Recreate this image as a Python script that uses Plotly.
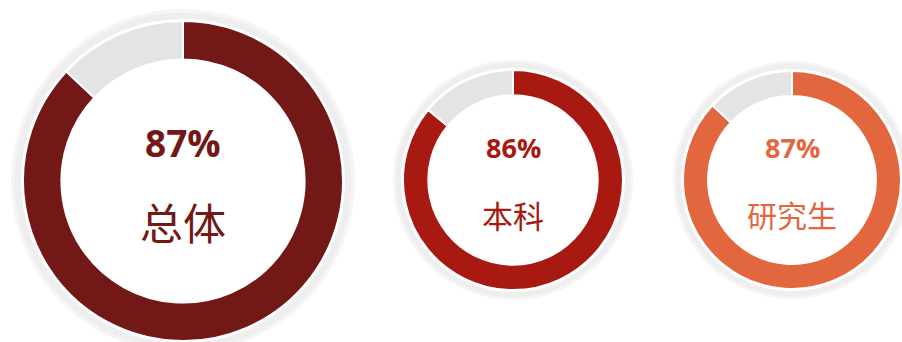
import plotly.graph_objects as go

# ---- data ----
groups = ["总体", "本科", "研究生"]
rates = [87, 86, 87]
remainders = [13, 14, 13]

# ---- styles / layout ----
W, H = 902, 342
ring_colors = ["#721816", "#A81912", "#E2673F"]
rest_color = "#E4E4E4"
centers = [(183, 181), (513, 180), (792, 180)]   # pixel centres (x, y from top)
radii = [160, 110, 109]
holes = [0.76, 0.77, 0.77]
pct_sizes = [37, 27, 27]
label_sizes = [43, 31, 30]
pct_dy = [-39, -33, -33]
label_dy = [40, 34, 34]

fig = go.Figure()
shapes = []
annotations = []
for i, g in enumerate(groups):
    cx, cy = centers[i]
    r = radii[i]
    fig.add_trace(go.Pie(
        values=[rates[i], remainders[i]],
        labels=["达成", "未达成"],
        hole=holes[i],
        sort=False,
        direction="clockwise",
        rotation=0,
        textinfo="none",
        hoverinfo="label+percent",
        marker=dict(colors=[ring_colors[i], rest_color],
                    line=dict(color="white", width=2)),
        domain=dict(x=[(cx - r) / W, (cx + r) / W],
                    y=[(H - cy - r) / H, (H - cy + r) / H]),
        showlegend=False,
    ))
    # halo rings
    gap = 2
    thick = 10 if i == 0 else 8
    for k, (col, w0, w1) in enumerate([("#F5F5F5", thick * 0.6, thick), ("#EEEEEE", 0, thick * 0.65)]):
        rm = r + gap + (w0 + w1) / 2
        shapes.append(dict(
            type="circle", layer="below",
            xref="paper", yref="paper",
            xsizemode="pixel", ysizemode="pixel",
            xanchor=cx / W, yanchor=1 - cy / H,
            x0=-rm, x1=rm, y0=-rm, y1=rm,
            line=dict(color=col, width=w1 - w0),
            fillcolor="rgba(0,0,0,0)",
        ))
    annotations.append(dict(
        x=cx / W, y=1 - (cy + pct_dy[i]) / H, xref="paper", yref="paper",
        text=f"<b>{rates[i]}%</b>", showarrow=False,
        xanchor="center", yanchor="middle",
        font=dict(family="Open Sans, Lato, sans-serif", size=pct_sizes[i],
                  color=ring_colors[i], weight=800),
    ))
    annotations.append(dict(
        x=cx / W, y=1 - (cy + label_dy[i]) / H, xref="paper", yref="paper",
        text=g, showarrow=False,
        xanchor="center", yanchor="middle",
        font=dict(family="Noto Sans CJK SC", size=label_sizes[i], color=ring_colors[i]),
    ))

fig.update_layout(
    width=W, height=H,
    margin=dict(l=0, r=0, t=0, b=0),
    paper_bgcolor="white", plot_bgcolor="white",
    shapes=shapes, annotations=annotations,
    showlegend=False,
)
fig.write_html("out.html")
